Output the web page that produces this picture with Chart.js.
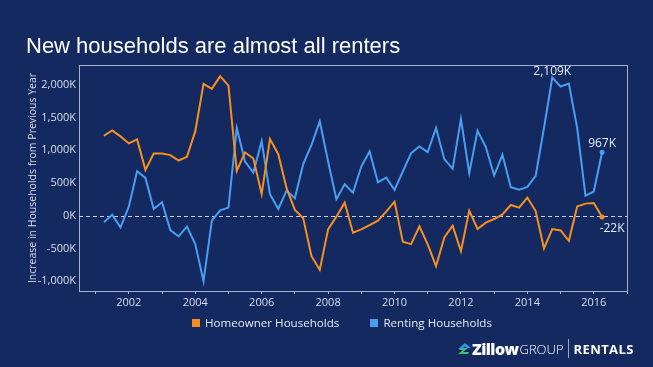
<!DOCTYPE html>
<html>
<head>
<meta charset="utf-8">
<script src="https://cdn.jsdelivr.net/npm/chart.js@4.4.0/dist/chart.umd.min.js"></script>
<style>
  html, body { margin: 0; padding: 0; background: #13295f; }
  #wrap { position: relative; width: 653px; height: 367px; overflow: hidden; }
  #chart { position: absolute; left: 0; top: 0; }
  #title {
    position: absolute; left: 26px; top: 35px;
    font: 22px/22px 'Liberation Sans', Arial, sans-serif;
    color: #ffffff; white-space: nowrap;
  }
  #legend {
    position: absolute; top: 315px; left: 192px;
    font: 11.6px 'Open Sans', sans-serif; color: #e4e8f2;
    white-space: nowrap;
  }
  #legend span.item { display: inline-block; margin-right: 31px; }
  #legend span.box { display: inline-block; width: 8px; height: 8px; margin-right: 5px; vertical-align: 0px; }
  #logo {
    position: absolute; left: 457px; top: 336px; height: 20px;
    color: #ffffff; white-space: nowrap; font-family: 'Open Sans', sans-serif;
  }
  #logo .z { font-weight: 800; font-size: 16px; letter-spacing: -0.6px; vertical-align: middle; }
  #logo .g { font-weight: 300; font-size: 13px; vertical-align: middle; margin-left: 1px; }
  #logo .sep { display: inline-block; width: 1px; height: 19px; background: #9aa6c4; vertical-align: middle; margin: 0 5px 0 4px; }
  #logo .r { font-weight: 700; font-size: 13px; letter-spacing: 0.4px; vertical-align: middle; }
</style>
</head>
<body>
<div id="wrap">
  <canvas id="chart" width="653" height="367"></canvas>
  <div id="title">New households are almost all renters</div>
  <div id="legend"></div>
  <div id="logo">
    <svg width="15" height="13" viewBox="0 0 15 13" style="vertical-align:middle">
      <path d="M1 7 L8 1 L14 6 L10 6 L8 4.5 L4 7.5 Z" fill="#2f9de0"/>
      <path d="M1 12 L6 8 L2 8 L5 6 L11 6 L6 10 L12 10 L11 12 Z" fill="#3cc07a"/>
    </svg><span class="z">Zillow</span><span class="g">GROUP</span><span class="sep"></span><span class="r">RENTALS</span>
  </div>
</div>
<script>
// quarterly, 2001 Q2 .. 2016 Q2, thousands of households
const firstQuarter = 2001.25;
const homeowner = [
  1220, 1302, 1210, 1103, 1164, 699, 950, 950, 924, 842, 898, 1286, 2011,
  1935, 2129, 1986, 684, 965, 873, 332, 1169, 939, 419, 87, -36,
  -618, -827, -209, -15, 199, -260, -209, -143, -77, 61, 214, -398, -434,
  -163, -439, -771, -332, -153, -541, 77, -204, -107, -51, 20, 163, 123,
  276, 71, -500, -204, -225, -383, 138, 184, 194, -22
];
const renting = [
  -102, 15, -179, 138, 679, 577, 102, 204, -220, -317, -168, -434, -1000,
  -77, 82, 123, 1338, 827, 659, 1138, 327, 102, 383, 265, 786,
  1082, 1440, 827, 250, 480, 352, 750, 980, 511, 582, 393, 674, 955,
  1057, 970, 1338, 863, 715, 1475, 648, 1297, 1047, 613, 929, 434, 398,
  439, 607, 1338, 2109, 1971, 2016, 1338, 306, 368, 967
];
const seriesNames = ['Homeowner Households', 'Renting Households'];
const seriesColors = ['#f7901e', '#4a9ef2'];
const tickYears = [2001, 2002, 2003, 2004, 2005, 2006, 2007, 2008, 2009, 2010,
  2011, 2012, 2013, 2014, 2015, 2016, 2017];
const yTicks = [-1000, -500, 0, 500, 1000, 1500, 2000];
const callouts = [
  { series: 1, index: 54, text: '2,109K', dx: 0, dy: -6 },
  { series: 1, index: 60, text: '967K', dx: 0, dy: -9 },
  { series: 0, index: 60, text: '-22K', dx: 10, dy: 11 }
];

const axisColor = '#a9b2cc';
const textColor = '#d9deea';

function toPoints(values) {
  return values.map((v, i) => ({ x: firstQuarter + i / 4, y: v }));
}

const frame = {
  id: 'frame',
  beforeDatasetsDraw(chart) {
    const { ctx, chartArea: a, scales } = chart;
    ctx.save();
    ctx.strokeStyle = axisColor;
    ctx.lineWidth = 1;
    ctx.strokeRect(a.left + 0.5, a.top + 0.5, a.right - a.left, a.bottom - a.top);
    const y0 = Math.round(scales.y.getPixelForValue(0)) + 0.5;
    ctx.strokeStyle = '#c9cfe0';
    ctx.setLineDash([4, 3]);
    ctx.beginPath();
    ctx.moveTo(a.left, y0);
    ctx.lineTo(a.right, y0);
    ctx.stroke();
    ctx.restore();
  },
  afterDatasetsDraw(chart) {
    const { ctx } = chart;
    ctx.save();
    ctx.font = '12px "Open Sans", sans-serif';
    ctx.fillStyle = '#e6e9f2';
    ctx.textAlign = 'center';
    ctx.textBaseline = 'middle';
    callouts.forEach(c => {
      const pt = chart.getDatasetMeta(c.series).data[c.index];
      ctx.fillText(c.text, pt.x + c.dx, pt.y + c.dy);
    });
    ctx.restore();
  }
};

const lastIndex = homeowner.length - 1;

new Chart(document.getElementById('chart'), {
  type: 'line',
  data: {
    datasets: [homeowner, renting].map((vals, k) => ({
      label: seriesNames[k],
      data: toPoints(vals),
      borderColor: seriesColors[k],
      backgroundColor: seriesColors[k],
      borderWidth: 2,
      tension: 0,
      pointRadius: ctx => ctx.dataIndex === lastIndex ? 2.5 : 0,
      pointBorderWidth: 0
    }))
  },
  options: {
    responsive: false,
    animation: false,
    layout: { padding: { left: 26, top: 65, right: 26, bottom: 56 } },
    plugins: {
      legend: { display: false },
      tooltip: { enabled: false }
    },
    scales: {
      x: {
        type: 'linear',
        min: 2000.5,
        max: 2017,
        afterBuildTicks: s => { s.ticks = tickYears.map(v => ({ value: v })); },
        afterFit: s => { s.height = 20; },
        border: { display: false },
        grid: { drawOnChartArea: false, drawTicks: true, tickLength: 3, color: axisColor },
        ticks: {
          color: textColor,
          padding: 2,
          maxRotation: 0,
          autoSkip: false,
          font: { family: 'Open Sans', size: 11 },
          callback: v => v % 2 === 0 ? String(v) : ''
        }
      },
      y: {
        type: 'linear',
        min: -1150,
        max: 2300,
        afterBuildTicks: s => { s.ticks = yTicks.map(v => ({ value: v })); },
        afterFit: s => { s.width = 53; },
        border: { display: false },
        grid: { display: true, drawOnChartArea: false, drawTicks: false, color: 'rgba(0,0,0,0)' },
        ticks: {
          color: textColor,
          padding: 3,
          autoSkip: false,
          font: { family: 'Open Sans', size: 11 },
          callback: v => Number(v).toLocaleString('en-US') + 'K'
        },
        title: {
          display: true,
          text: 'Increase in Households from Previous Year',
          color: textColor,
          padding: { top: 1, bottom: 0 },
          font: { family: 'Open Sans', size: 10.5 }
        }
      }
    }
  },
  plugins: [frame]
});

document.getElementById('legend').innerHTML = seriesNames.map((n, k) =>
  '<span class="item"><span class="box" style="background:' + seriesColors[k] + '"></span>' + n + '</span>'
).join('');
</script>
</body>
</html>
